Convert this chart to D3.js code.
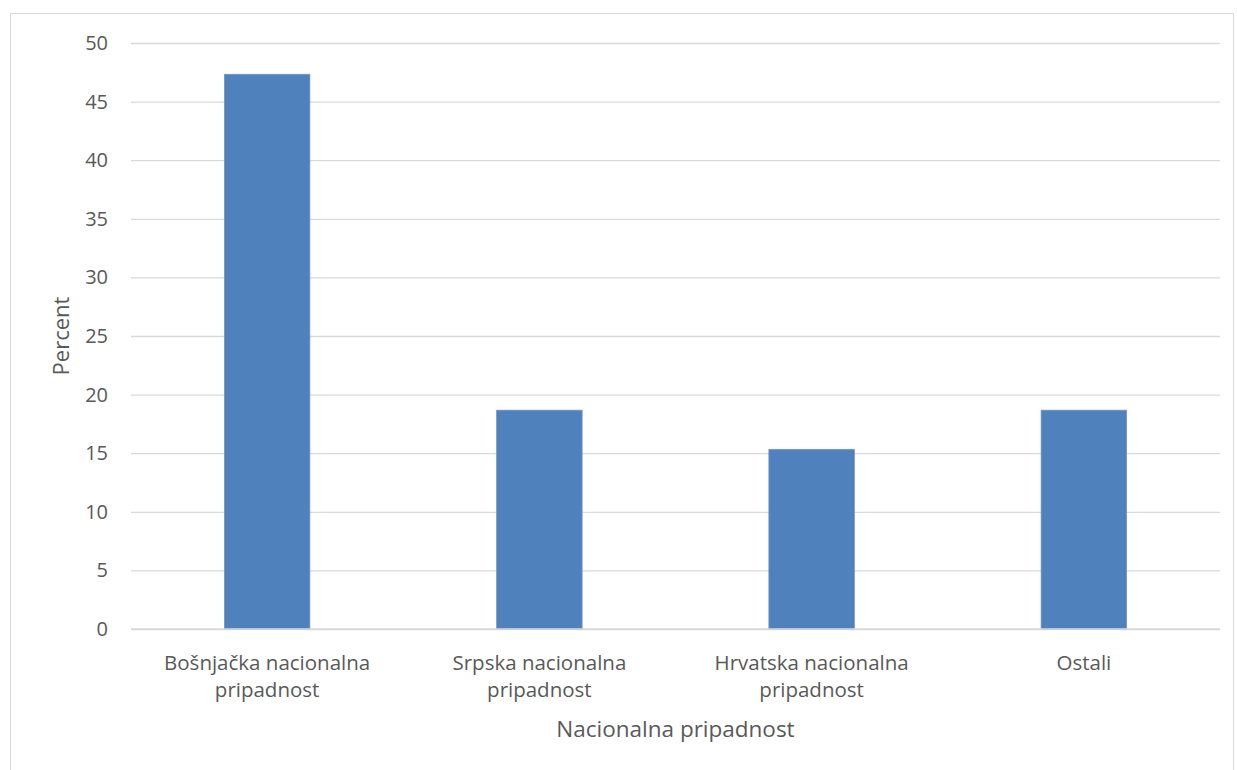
<!DOCTYPE html>
<html>
<head>
<meta charset="utf-8">
<script src="https://cdn.jsdelivr.net/npm/d3@7/dist/d3.min.js"></script>
<style>
  html, body { margin: 0; padding: 0; background: #fff; }
  svg { display: block; }
  text { font-family: "Open Sans", "Noto Sans", sans-serif; fill: #595959; }
</style>
</head>
<body>
<svg id="chart" width="1237" height="770"></svg>
<script>
// Share of respondents by national affiliation (percent)
const categories = [
  ["Bošnjačka nacionalna", "pripadnost"],
  ["Srpska nacionalna", "pripadnost"],
  ["Hrvatska nacionalna", "pripadnost"],
  ["Ostali"]
];
const percentValues = [47.33, 18.67, 15.33, 18.67];
const yTicks = [0, 5, 10, 15, 20, 25, 30, 35, 40, 45, 50];
const yAxisTitle = "Percent";
const xAxisTitle = "Nacionalna pripadnost";

const svg = d3.select("#chart");
const W = 1237, H = 770;
const plot = { left: 131, right: 1220, top: 43, bottom: 629 };

// outer chart frame
svg.append("rect")
  .attr("x", 10.5).attr("y", 13.5)
  .attr("width", W - 14).attr("height", H)
  .attr("fill", "#fff").attr("stroke", "#d9d9d9").attr("stroke-width", 1);

const x = d3.scaleBand()
  .domain(categories.map((d, i) => i))
  .range([plot.left, plot.right])
  .paddingInner(0.686)
  .paddingOuter(0.343);

const y = d3.scaleLinear().domain([0, 50]).range([plot.bottom, plot.top]);

// horizontal gridlines and tick labels
const yAxis = d3.axisLeft(y)
  .tickValues(yTicks)
  .tickSize(-(plot.right - plot.left))
  .tickPadding(23);
const gy = svg.append("g")
  .attr("transform", `translate(${plot.left},0)`)
  .call(yAxis);
gy.select(".domain").remove();
gy.selectAll(".tick line").attr("stroke", "#d9d9d9").attr("stroke-width", 1.3);
gy.selectAll(".tick text")
  .attr("font-size", 20).attr("fill", "#595959")
  .style("font-family", "'Open Sans', sans-serif");

// bars
svg.append("g").selectAll("rect")
  .data(percentValues)
  .join("rect")
  .attr("x", (d, i) => x(i))
  .attr("y", d => y(d))
  .attr("width", x.bandwidth())
  .attr("height", d => y(0) - y(d))
  .attr("fill", "#4f81bd")
  .attr("stroke", "#6e96cb")
  .attr("stroke-width", 0.8);

// baseline
svg.append("line")
  .attr("x1", plot.left).attr("x2", plot.right)
  .attr("y1", y(0)).attr("y2", y(0))
  .attr("stroke", "#d9d9d9").attr("stroke-width", 1.3);

// category labels
const xl = svg.append("g").selectAll("text")
  .data(categories)
  .join("text")
  .attr("x", (d, i) => x(i) + x.bandwidth() / 2)
  .attr("y", 670)
  .attr("text-anchor", "middle")
  .attr("font-size", 20.5);
xl.selectAll("tspan")
  .data(d => d)
  .join("tspan")
  .attr("x", function () { return d3.select(this.parentNode).attr("x"); })
  .attr("dy", (d, i) => i === 0 ? 0 : 27)
  .text(d => d);

// axis titles
svg.append("text")
  .attr("transform", `translate(69,${(plot.top + plot.bottom) / 2}) rotate(-90)`)
  .attr("text-anchor", "middle")
  .attr("font-size", 22)
  .text(yAxisTitle);

svg.append("text")
  .attr("x", (plot.left + plot.right) / 2)
  .attr("y", 737)
  .attr("text-anchor", "middle")
  .attr("font-size", 22.5)
  .text(xAxisTitle);
</script>
</body>
</html>
